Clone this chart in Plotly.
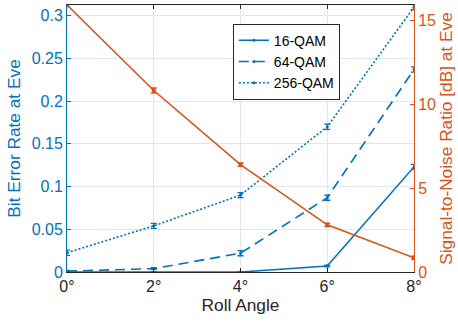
import plotly.graph_objects as go

roll_angles = [0, 2, 4, 6, 8]
x_tick_labels = ["0°", "2°", "4°", "6°", "8°"]
ber_16qam = [0.0, 0.0, 0.0, 0.007, 0.123]
ber_64qam = [0.001, 0.004, 0.022, 0.087, 0.237]
ber_256qam = [0.0225, 0.054, 0.09, 0.17, 0.31]
err_16qam = [0.0005, 0.0005, 0.0005, 0.001, 0.003]
err_64qam = [0.0008, 0.001, 0.003, 0.003, 0.003]
err_256qam = [0.003, 0.003, 0.003, 0.003, 0.003]
snr_db = [15.92, 10.82, 6.4, 2.81, 0.85]
snr_err = [0.1, 0.15, 0.1, 0.1, 0.1]

BLUE = "#0072BD"
ORANGE = "#D95319"
FONT = "Liberation Sans, Arial, sans-serif"
TITLE_SIZE = 17.3
TICK_SIZE = 16

fig = go.Figure()

for name, vals, errs, dash in [("16-QAM", ber_16qam, err_16qam, "solid"),
                               ("64-QAM", ber_64qam, err_64qam, "10px,6px"),
                               ("256-QAM", ber_256qam, err_256qam, "2px,2px")]:
    fig.add_trace(go.Scatter(
        x=roll_angles, y=vals, name=name, mode="lines+markers",
        line=dict(color=BLUE, width=1.6, dash=dash),
        marker=dict(size=3, color=BLUE),
        error_y=dict(type="data", array=errs, color=BLUE, thickness=1.3, width=3),
        yaxis="y",
    ))

fig.add_trace(go.Scatter(
    x=roll_angles, y=snr_db, name="SNR", mode="lines+markers",
    line=dict(color=ORANGE, width=1.6),
    marker=dict(size=4, color=ORANGE, symbol="square"),
    error_y=dict(type="data", array=snr_err, color=ORANGE, thickness=1.3, width=3),
    yaxis="y2", showlegend=False,
))

fig.update_layout(
    width=458, height=322,
    margin=dict(l=67, r=44, t=5, b=50),
    paper_bgcolor="white", plot_bgcolor="white",
    font=dict(family=FONT, size=TICK_SIZE, color="#262626"),
    xaxis=dict(
        range=[0, 8], tickvals=roll_angles, ticktext=x_tick_labels,
        showgrid=True, gridcolor="#e6e6e6", gridwidth=1,
        showline=True, linecolor="#262626", linewidth=1, mirror="ticks",
        ticks="inside", ticklen=4, tickcolor="#262626",
        title=dict(text="Roll Angle", standoff=4, font=dict(size=TITLE_SIZE, color="#262626")),
        tickfont=dict(size=TICK_SIZE, color="#262626"), zeroline=False,
        automargin=False,
    ),
    yaxis=dict(
        range=[0, 0.3125], tickvals=[0, 0.05, 0.1, 0.15, 0.2, 0.25, 0.3],
        ticktext=["0", "0.05", "0.1", "0.15", "0.2", "0.25", "0.3"],
        showgrid=True, gridcolor="#dde9f3", gridwidth=1,
        showline=True, linecolor=BLUE, linewidth=1,
        ticks="inside", ticklen=4, tickcolor=BLUE,
        tickfont=dict(size=TICK_SIZE, color=BLUE),
        title=dict(text="Bit Error Rate at Eve", standoff=6, font=dict(size=TITLE_SIZE, color=BLUE)),
        zeroline=False, automargin=False,
    ),
    yaxis2=dict(
        range=[0, 15.92], overlaying="y", side="right",
        tickvals=[0, 5, 10, 15],
        showgrid=False, showline=True, linecolor=ORANGE, linewidth=1,
        ticks="inside", ticklen=4, tickcolor=ORANGE,
        tickfont=dict(size=TICK_SIZE, color=ORANGE),
        title=dict(text="Signal-to-Noise Ratio [dB] at Eve", standoff=4, font=dict(size=TITLE_SIZE, color=ORANGE)),
        zeroline=False, automargin=False,
    ),
    legend=dict(
        x=0.478, y=0.93, xanchor="left", yanchor="top",
        bgcolor="white", bordercolor="#262626", borderwidth=1,
        font=dict(size=14, color="#000000"),
        tracegroupgap=0, itemwidth=30,
    ),
    showlegend=True,
)

fig.write_html("out.html", config={"displayModeBar": False},
               post_script="document.body.style.margin='0px';")
